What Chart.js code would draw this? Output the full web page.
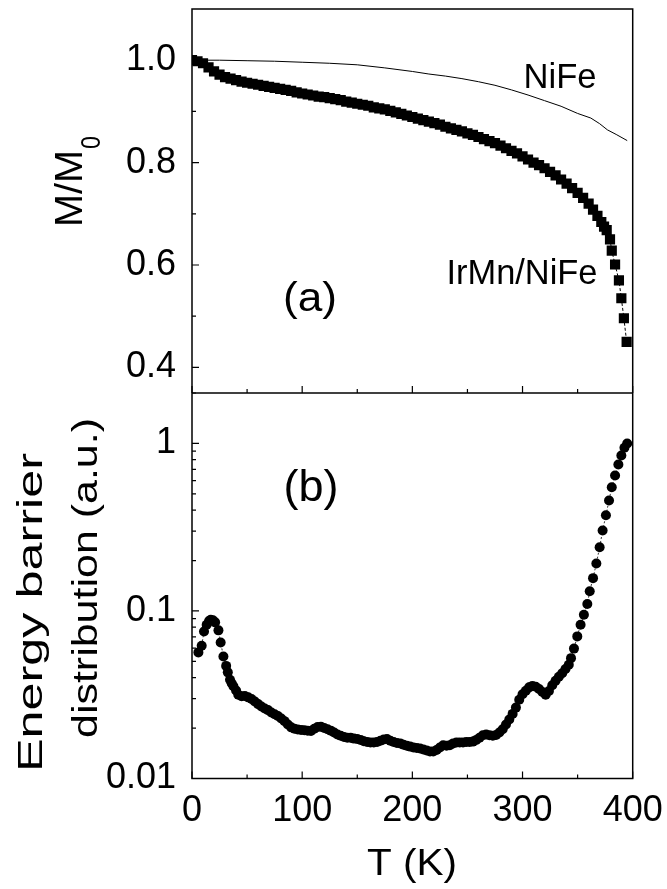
<!DOCTYPE html>
<html><head><meta charset="utf-8">
<script src="https://cdn.jsdelivr.net/npm/chart.js@4"></script>
<style>html,body{margin:0;padding:0;background:#fff;}#wrap{position:relative;width:667px;height:889px;}</style>
</head><body><div id="wrap"><canvas id="c" width="667" height="889"></canvas></div>
<script>
// ---------- data ----------
const xTicks = [0, 100, 200, 300, 400];
const xTickLabels = ['0', '100', '200', '300', '400'];
const xMinorTicks = [50, 150, 250, 350];

const topTicks = [0.4, 0.6, 0.8, 1.0];
const topTickLabels = ['0.4', '0.6', '0.8', '1.0'];
const topMinorTicks = [0.5, 0.7, 0.9];

const botTicks = [0.01, 0.1, 1];
const botTickLabels = ['0.01', '0.1', '1'];
const botMinorTicks = [0.02,0.03,0.04,0.05,0.06,0.07,0.08,0.09,0.2,0.3,0.4,0.5,0.6,0.7,0.8,0.9,2];

// (a) NiFe reference film, M/M0
const nifeT = [0, 25, 50, 75, 100, 125, 150, 175, 200, 215, 230, 245, 260, 275, 290, 305, 320, 335, 350, 362, 370, 377, 385, 395];
const nifeM = [1.000, 1.000, 0.999, 0.998, 0.996, 0.994, 0.991, 0.985, 0.978, 0.973, 0.969, 0.964, 0.958, 0.951, 0.942, 0.932, 0.921, 0.910, 0.896, 0.887, 0.876, 0.864, 0.855, 0.843];

// (a) IrMn/NiFe, M/M0
const irmnT = [0,5,10,15,20,25,30,35,40,45,50,55,60,65,70,75,80,85,90,95,100,105,110,115,120,125,130,135,140,145,150,155,160,165,170,175,180,185,190,195,200,205,210,215,220,225,230,235,240,245,250,255,260,265,270,275,280,285,290,295,300,305,310,315,320,325,330,335,340,345,350,355,360,364,368,371.5,374,376.4,379.4,381,384,387.5,389.7,392,394.5];
const irmnM = [1.000,0.998,0.994,0.986,0.978,0.972,0.967,0.964,0.961,0.958,0.956,0.954,0.952,0.950,0.948,0.946,0.944,0.942,0.940,0.937,0.935,0.933,0.931,0.929,0.928,0.926,0.924,0.922,0.919,0.917,0.915,0.913,0.911,0.908,0.906,0.904,0.901,0.898,0.895,0.892,0.889,0.886,0.883,0.880,0.877,0.874,0.870,0.867,0.864,0.861,0.857,0.854,0.850,0.846,0.842,0.838,0.833,0.828,0.823,0.818,0.812,0.806,0.800,0.795,0.789,0.782,0.775,0.767,0.759,0.750,0.741,0.731,0.720,0.708,0.696,0.684,0.675,0.668,0.650,0.628,0.601,0.570,0.535,0.496,0.450];

// (b) Energy barrier distribution (a.u.)
const ebT = [5.8,8.8,10.9,13.3,15.5,17,19,21,24,26,28.5,31,32.5,34.5,36,37.6,40,42,45,48,51,54,57,60,63,66,69,72,75,78,81,84,87,90,93,96,99,102,105,108,111,114,117,120,123,126,129,132,135,138,141,144,147,150,153,156,159,162,165,168,171,174,177,180,183,186,189,192,195,198,201,204,207,210,213,216,219,222,225,228,231,234,237,240,243,246,249,252,255,258,261,264,267,270,273,276,279,282,285,288,291,294,297,300,303,306,309,312,315,318,321,324,327,330,333,336,339,342,344,346.7,349.7,352.7,355.7,358.8,361,364,367,370,372.7,375.7,378.5,381,384,387,389.7,392.5,395];
const ebV = [0.0566,0.062,0.0755,0.0828,0.087,0.0887,0.088,0.0855,0.0766,0.0649,0.0535,0.047,0.043,0.0389,0.037,0.0355,0.0335,0.0316,0.031,0.0311,0.0305,0.0298,0.0288,0.0278,0.0269,0.0262,0.0256,0.0248,0.0242,0.0236,0.0228,0.022,0.021,0.0202,0.0198,0.0196,0.0195,0.0194,0.0193,0.0192,0.0198,0.0203,0.0204,0.02,0.0197,0.0193,0.0188,0.0183,0.018,0.0177,0.0175,0.0175,0.0173,0.0172,0.017,0.0167,0.0165,0.0164,0.0164,0.0165,0.0168,0.0171,0.0172,0.0168,0.0165,0.0163,0.0162,0.0159,0.0157,0.0155,0.0153,0.0152,0.0151,0.0149,0.0147,0.0145,0.0145,0.0148,0.0153,0.0158,0.0157,0.0158,0.0162,0.0164,0.0164,0.0164,0.0165,0.0165,0.0166,0.017,0.0175,0.0181,0.0183,0.0181,0.018,0.0182,0.0188,0.0197,0.021,0.0225,0.0243,0.0265,0.0295,0.0318,0.0334,0.035,0.0357,0.0353,0.0342,0.0328,0.0316,0.0333,0.036,0.0383,0.0405,0.0425,0.045,0.0477,0.0523,0.0596,0.0705,0.0828,0.095,0.11,0.131,0.157,0.192,0.24,0.302,0.373,0.456,0.548,0.644,0.749,0.848,0.942,1.0];

const FONT = "'Liberation Sans', Arial, Helvetica, sans-serif";

function pts(xs, ys) { return xs.map((x, i) => ({ x: x, y: ys[i] })); }
function noPad(s) { s.paddingTop = 0; s.paddingBottom = 0; s.paddingLeft = 0; s.paddingRight = 0; }

// ---------- frame, inward ticks, titles and labels ----------
const framePlugin = {
  id: 'frame',
  afterDatasetsDraw(chart) {
    const { ctx, chartArea: a, scales } = chart;
    const sx = scales.x, yt = scales.yTop, yb = scales.yBot;
    ctx.save();
    ctx.strokeStyle = '#000';
    ctx.lineWidth = 1.5;
    ctx.strokeRect(a.left, a.top, a.right - a.left, a.bottom - a.top);
    ctx.beginPath();
    ctx.moveTo(a.left, yt.bottom); ctx.lineTo(a.right, yt.bottom);
    ctx.stroke();
    ctx.lineWidth = 1.2;
    ctx.beginPath();
    const seg = (x1, y1, x2, y2) => { ctx.moveTo(x1, y1); ctx.lineTo(x2, y2); };
    xTicks.forEach(v => { const p = sx.getPixelForValue(v); seg(p, yt.bottom, p, yt.bottom - 7); seg(p, yb.bottom, p, yb.bottom - 7); });
    xMinorTicks.forEach(v => { const p = sx.getPixelForValue(v); seg(p, yt.bottom, p, yt.bottom - 4); seg(p, yb.bottom, p, yb.bottom - 4); });
    topTicks.forEach(v => { const p = yt.getPixelForValue(v); seg(a.left, p, a.left + 7, p); });
    topMinorTicks.forEach(v => { const p = yt.getPixelForValue(v); seg(a.left, p, a.left + 4, p); });
    botTicks.forEach(v => { const p = yb.getPixelForValue(v); seg(a.left, p, a.left + 7, p); });
    botMinorTicks.forEach(v => { const p = yb.getPixelForValue(v); seg(a.left, p, a.left + 4, p); });
    ctx.stroke();
    ctx.restore();
  },
  afterDraw(chart) {
    const ctx = chart.ctx;
    ctx.save();
    ctx.fillStyle = '#000';
    ctx.textBaseline = 'alphabetic';
    const txt = (s, x, y, size, len, rot, align) => {
      ctx.save();
      ctx.font = size + 'px ' + FONT;
      ctx.translate(x, y);
      if (rot) ctx.rotate(-Math.PI / 2);
      const w = ctx.measureText(s).width;
      const k = len ? len / w : 1;
      ctx.scale(k, 1);
      ctx.textAlign = 'left';
      const off = align === 'center' ? -w / 2 : 0;
      ctx.fillText(s, off, 0);
      ctx.restore();
      return w * k;
    };
    txt('NiFe', 560, 88, 35, 73, false, 'center');
    txt('IrMn/NiFe', 522, 284, 35, 151, false, 'center');
    txt('(a)', 310, 311, 40, 54, false, 'center');
    txt('(b)', 311, 501, 44, 55, false, 'center');
    txt('T (K)', 412, 875, 37, 90, false, 'center');
    const w1 = txt('M/M', 82, 227, 38, 77, true);
    txt('0', 100, 227 - w1 - 1, 27, 13, true);
    txt('Energy barrier', 42, 772, 35, 319, true);
    txt('distribution (a.u.)', 97, 738, 35, 320, true);
    ctx.restore();
  }
};

const tickFont = { family: FONT, size: 36 };

new Chart(document.getElementById('c').getContext('2d'), {
  type: 'scatter',
  data: {
    datasets: [
      { label: 'NiFe', data: pts(nifeT, nifeM), yAxisID: 'yTop', showLine: true,
        borderColor: '#000', borderWidth: 1, pointRadius: 0, fill: false },
      { label: 'IrMn/NiFe', data: pts(irmnT, irmnM), yAxisID: 'yTop', showLine: true,
        borderColor: '#000', borderWidth: 1, borderDash: [3, 2], pointStyle: 'rect', pointRadius: 7.2,
        pointBackgroundColor: '#000', pointBorderWidth: 0, fill: false },
      { label: 'Energy barrier distribution', data: pts(ebT, ebV), yAxisID: 'yBot', showLine: true,
        borderColor: '#000', borderWidth: 0.8, borderDash: [2, 2], pointStyle: 'circle', pointRadius: 5,
        pointBackgroundColor: '#000', pointBorderWidth: 0, fill: false }
    ]
  },
  options: {
    responsive: false, animation: false, events: [],
    layout: { padding: { left: 0, top: 9, right: 34.3, bottom: 0 } },
    plugins: { legend: { display: false }, tooltip: { enabled: false } },
    scales: {
      yBot: {
        type: 'logarithmic', position: 'left', stack: 'panels', stackWeight: 385.5,
        min: 0.01, max: 2,
        afterFit(s) { s.width = 192; noPad(s); },
        afterBuildTicks(s) { s.ticks = botTicks.map(v => ({ value: v })); },
        grid: { display: false }, border: { display: false },
        ticks: { font: tickFont, color: '#000', padding: 8, autoSkip: false,
          callback: (v, i) => botTickLabels[i] }
      },
      yTop: {
        type: 'linear', position: 'left', stack: 'panels', stackWeight: 384,
        min: 0.35, max: 1.1,
        afterFit(s) { s.width = 192; noPad(s); },
        afterBuildTicks(s) { s.ticks = topTicks.map(v => ({ value: v })); },
        grid: { display: false }, border: { display: false },
        ticks: { font: tickFont, color: '#000', padding: 8, autoSkip: false,
          callback: (v, i) => topTickLabels[i] }
      },
      x: {
        type: 'linear', position: 'bottom', min: 0, max: 400,
        afterFit(s) { s.height = 110.5; noPad(s); },
        afterBuildTicks(s) { s.ticks = xTicks.map(v => ({ value: v })); },
        grid: { display: false }, border: { display: false },
        ticks: { font: tickFont, color: '#000', padding: 3, maxRotation: 0, autoSkip: false,
          callback: (v, i) => xTickLabels[i] }
      }
    }
  },
  plugins: [framePlugin]
});
</script></body></html>
